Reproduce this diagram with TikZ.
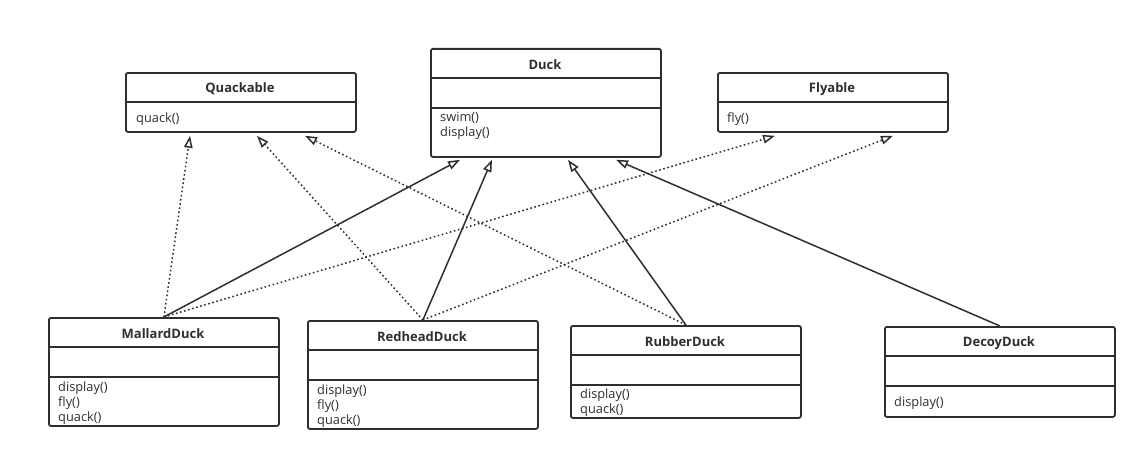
\documentclass[tikz,border=0pt]{standalone}
\usepackage{fontspec}
\setmainfont{Open Sans}
\usetikzlibrary{arrows.meta}
\definecolor{umlgray}{HTML}{2E2E2E}
\tikzset{
  classbox/.style={draw=umlgray, line width=1.8pt, rounded corners=2pt, minimum width=230pt, anchor=north west, inner sep=0pt},
  classname/.style={font=\fontsize{13}{15}\selectfont\bfseries, text=umlgray},
  methods/.style={anchor=west, align=left, inner sep=0pt, font=\fontsize{12.8}{15.3}\selectfont, text=umlgray},
  divider/.style={draw=umlgray, line width=1.8pt},
  realize/.style={draw=umlgray, line width=1.5pt, dash pattern=on 1.6pt off 2.6pt, -{Triangle[open,length=12pt,width=8.5pt]}},
  inherit/.style={draw=umlgray, line width=1.5pt, -{Triangle[open,length=12pt,width=8.5pt]}}
}

\begin{document}
\begin{tikzpicture}[x=1pt, y=-1pt]
			\useasboundingbox (0,0) rectangle (1145,460);
			% interfaces and base class
			\node [classbox, minimum height=59pt] (quackable) at (125,72) {};
			\node [classname] (quackable-name) at (240,89) {Quackable};
			\draw [divider] ([yshift=-30pt]quackable.north west) -- ([yshift=-30pt]quackable.north east);
			\node [methods] (quackable-ops) at (136,119) {quack()};

			\node [classbox, minimum height=108pt] (duck) at (430,48) {};
			\node [classname] (duck-name) at (545,65) {Duck};
			\draw [divider] ([yshift=-30pt]duck.north west) -- ([yshift=-30pt]duck.north east);
			\draw [divider] ([yshift=-60pt]duck.north west) -- ([yshift=-60pt]duck.north east);
			\node [methods] (duck-ops) at (440,126) {swim()\\display()};

			\node [classbox, minimum height=59pt] (flyable) at (717,72) {};
			\node [classname] (flyable-name) at (832,89) {Flyable};
			\draw [divider] ([yshift=-30pt]flyable.north west) -- ([yshift=-30pt]flyable.north east);
			\node [methods] (flyable-ops) at (727,119) {fly()};

			% concrete ducks
			\node [classbox, minimum height=108pt] (mallard) at (48,317) {};
			\node [classname] (mallard-name) at (163,334) {MallardDuck};
			\draw [divider] ([yshift=-30pt]mallard.north west) -- ([yshift=-30pt]mallard.north east);
			\draw [divider] ([yshift=-60pt]mallard.north west) -- ([yshift=-60pt]mallard.north east);
			\node [methods] (mallard-ops) at (58,403) {display()\\fly()\\quack()};

			\node [classbox, minimum height=108pt] (redhead) at (307,320) {};
			\node [classname] (redhead-name) at (422,337) {RedheadDuck};
			\draw [divider] ([yshift=-30pt]redhead.north west) -- ([yshift=-30pt]redhead.north east);
			\draw [divider] ([yshift=-60pt]redhead.north west) -- ([yshift=-60pt]redhead.north east);
			\node [methods] (redhead-ops) at (317,406) {display()\\fly()\\quack()};

			\node [classbox, minimum height=92pt] (rubber) at (570,325) {};
			\node [classname] (rubber-name) at (685,342) {RubberDuck};
			\draw [divider] ([yshift=-30pt]rubber.north west) -- ([yshift=-30pt]rubber.north east);
			\draw [divider] ([yshift=-60pt]rubber.north west) -- ([yshift=-60pt]rubber.north east);
			\node [methods] (rubber-ops) at (580,403) {display()\\quack()};

			\node [classbox, minimum height=90pt] (decoy) at (884,326) {};
			\node [classname] (decoy-name) at (999,343) {DecoyDuck};
			\draw [divider] ([yshift=-30pt]decoy.north west) -- ([yshift=-30pt]decoy.north east);
			\draw [divider] ([yshift=-60pt]decoy.north west) -- ([yshift=-60pt]decoy.north east);
			\node [methods] (decoy-ops) at (894,403) {display()};

			% realizations
			\draw [realize] (mallard.north) -- ([xshift=65pt,yshift=-3pt]quackable.south west);
			\draw [realize] (mallard.north) -- ([xshift=58pt,yshift=-3pt]flyable.south west);
			\draw [realize] (redhead.north) -- ([xshift=132pt,yshift=-3pt]quackable.south west);
			\draw [realize] (redhead.north) -- ([xshift=176pt,yshift=-3pt]flyable.south west);
			\draw [realize] (rubber.north) -- ([xshift=180pt,yshift=-3pt]quackable.south west);

			% generalizations
			\draw [inherit] (mallard.north) -- ([xshift=30pt,yshift=-2pt]duck.south west);
			\draw [inherit] (redhead.north) -- ([xshift=62pt,yshift=-2pt]duck.south west);
			\draw [inherit] (rubber.north) -- ([xshift=138pt,yshift=-2pt]duck.south west);
			\draw [inherit] (decoy.north) -- ([xshift=186pt,yshift=-2pt]duck.south west);
		\end{tikzpicture}
\end{document}
